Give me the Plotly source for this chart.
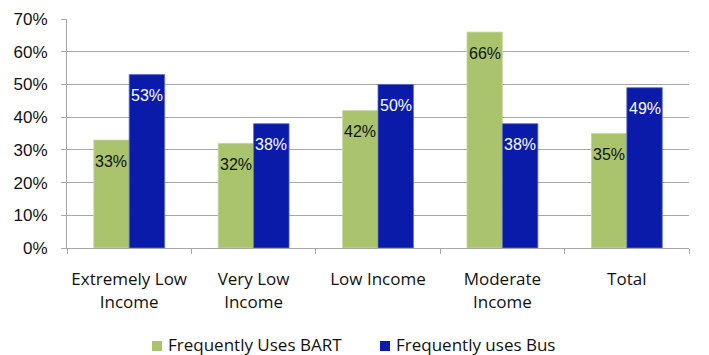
import plotly.graph_objects as go

categories = ["Extremely Low<br>Income", "Very Low<br>Income", "Low Income", "Moderate<br>Income", "Total"]
series_names = ["Frequently Uses BART", "Frequently uses Bus"]
bart_pct = [33, 32, 42, 66, 35]
bus_pct = [53, 38, 50, 38, 49]

GREEN = "#A9C46C"
BLUE = "#0A1BAA"
GRID = "#A8A8A8"
LABEL_FONT = "'Open Sans', 'Noto Sans', sans-serif"
NUM_FONT = "'Liberation Sans', Arial, sans-serif"
W, H = 709, 355
ML, MR, MT, MB = 67, 20, 19, 107


def px_to_paper(px, py):
    """Convert pixel coordinates (top-left origin) to paper coordinates."""
    return (px - ML) / (W - ML - MR), (H - py - MB) / (H - MT - MB)


fig = go.Figure()
fig.add_trace(go.Bar(
    name=series_names[0], x=categories, y=bart_pct,
    marker=dict(color=GREEN, line=dict(color="#C9D9A2", width=0.8)),
))
fig.add_trace(go.Bar(
    name=series_names[1], x=categories, y=bus_pct,
    marker=dict(color=BLUE, line=dict(color="#5D6BC8", width=0.8)),
))

# value labels just inside the top of each bar
for i, cat in enumerate(categories):
    for offset, vals, col in ((-0.143, bart_pct, "#111111"), (0.143, bus_pct, "white")):
        fig.add_annotation(
            x=i + offset, y=vals[i], xref="x", yref="y",
            text=f"{vals[i]}%", showarrow=False, yshift=-21,
            font=dict(family=NUM_FONT, size=16, color=col),
        )

# legend row below the chart: square swatch followed by the series name
for name, col, sx in ((series_names[0], GREEN, 152), (series_names[1], BLUE, 380)):
    x0, y0 = px_to_paper(sx, 351)
    x1, y1 = px_to_paper(sx + 10, 341)
    fig.add_shape(type="rect", xref="paper", yref="paper",
                  x0=x0, x1=x1, y0=y0, y1=y1,
                  fillcolor=col, line=dict(width=0))
    tx, ty = px_to_paper(sx + 15, 344)
    fig.add_annotation(xref="paper", yref="paper", x=tx, y=ty,
                       xanchor="left", yanchor="middle", showarrow=False, borderpad=0,
                       text=name, font=dict(family=LABEL_FONT, size=17, color="#111111"))

fig.update_layout(
    width=W, height=H,
    margin=dict(l=ML, r=MR, t=MT, b=MB, autoexpand=False),
    paper_bgcolor="white", plot_bgcolor="white",
    barmode="group", bargap=0.43, bargroupgap=0,
    showlegend=False,
    xaxis=dict(
        type="category", tickson="boundaries", ticks="outside", ticklen=5,
        tickcolor=GRID, showline=True, linecolor=GRID, linewidth=1,
        tickfont=dict(family=LABEL_FONT, size=17, color="#111111"),
        tickangle=0, ticklabelstandoff=16, automargin=False,
        showgrid=False,
    ),
    yaxis=dict(
        range=[0, 70], dtick=10, ticksuffix="%", ticks="outside", ticklen=5,
        tickcolor=GRID, showline=True, linecolor=GRID, linewidth=1,
        showgrid=True, gridcolor=GRID, gridwidth=1, zeroline=False,
        ticklabelstandoff=10, automargin=False,
        tickfont=dict(family=NUM_FONT, size=17, color="#111111"),
    ),
)

fig.write_html("out.html")
